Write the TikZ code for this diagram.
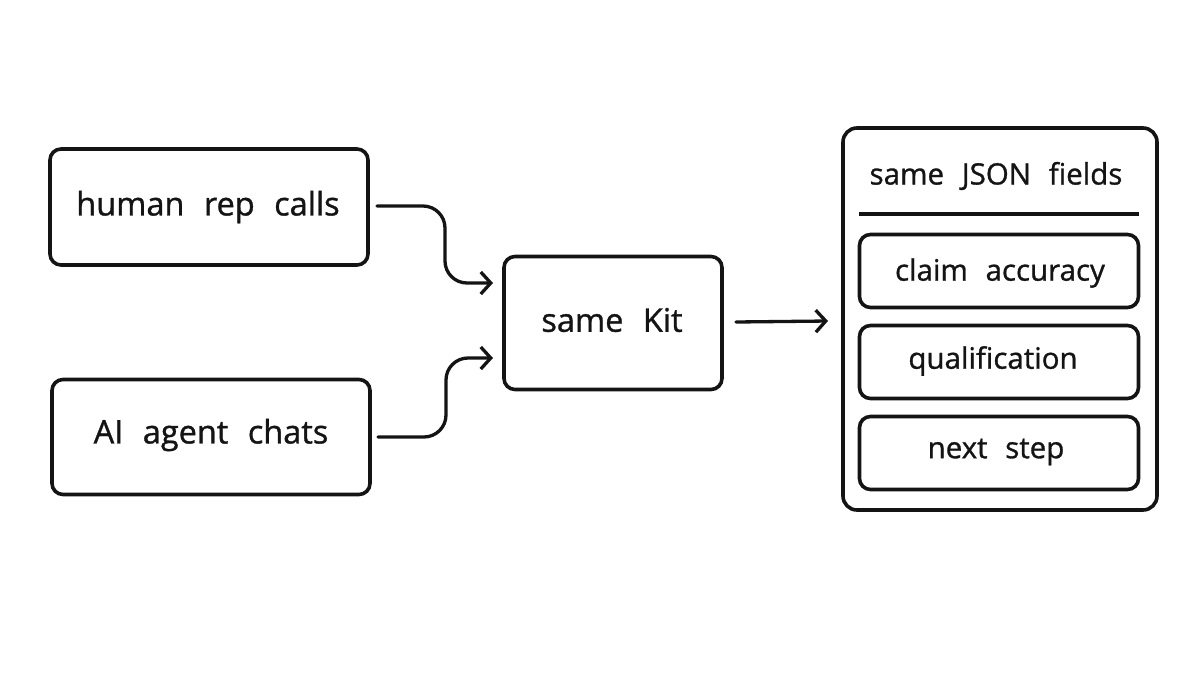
\documentclass[tikz,border=0pt]{standalone}
\usepackage{fontspec}
\setmainfont{Open Sans}[FakeBold=1.0]
\usetikzlibrary{arrows.meta,calc}
\definecolor{ink}{HTML}{141414}
\newcommand{\bigtxt}{\fontsize{32.5}{36}\selectfont\spaceskip=0.6em\relax}
\newcommand{\smalltxt}{\fontsize{29.5}{34}\selectfont\spaceskip=0.6em\relax}
\tikzset{
 box/.style={draw=ink,line width=3.6pt,rounded corners=11pt,inner sep=0pt},
 txtbig/.style={inner sep=0pt,text=ink,font=\bigtxt},
 txtsmall/.style={inner sep=0pt,text=ink,font=\smalltxt},
 conn/.style={draw=ink,line width=3.3pt,line cap=round,rounded corners=22pt,-{Straight Barb[length=10pt,width=22pt,line width=3.3pt]}},
}
\begin{document}
\begin{tikzpicture}[x=1pt,y=-1pt]
\useasboundingbox[fill=white] (0,0) rectangle (1200,675);
\node[box,minimum width=318pt,minimum height=116pt] (human) at (209,207) {};
\node[txtbig] (humant) at (208,207) {human rep calls};
\node[box,minimum width=318pt,minimum height=115pt] (agent) at (211,437) {};
\node[txtbig] (agentt) at (211,435) {AI agent chats};
\node[box,minimum width=218pt,minimum height=133pt] (kit) at (613,323) {};
\node[txtbig] (kitt) at (612,320) {same Kit};
\node[box,minimum width=314pt,minimum height=382pt,rounded corners=14pt] (panel) at (1000,319) {};
\node[txtsmall] (title) at (996,176) {same JSON fields};
\coordinate (ruleL) at (859,214);
\coordinate (ruleR) at (1139,214);
\draw[line width=3.3pt,draw=ink] (ruleL) -- (ruleR);
\node[box,minimum width=279pt,minimum height=73pt] (claim) at (999,271) {};
\node[txtsmall] (claimt) at (1000,273) {claim accuracy};
\node[box,minimum width=279pt,minimum height=73pt] (qual) at (999,362) {};
\node[txtsmall] (qualt) at (993,361) {qualification};
\node[box,minimum width=279pt,minimum height=73pt] (next) at (999,453) {};
\node[txtsmall] (nextt) at (996,452) {next step};
\coordinate (a) at (377,206);
\coordinate (b) at (493,283);
\coordinate (c) at (378,437);
\coordinate (d) at (493,358);
\draw[conn] (a) -- (445,206) -- (445,283) -- (b);
\draw[conn] (c) -- (446,437) -- (446,358) -- (d);
\coordinate (e) at (736,322);
\coordinate (f) at (828,321);
\draw[conn] (e) -- (f);
\end{tikzpicture}
\end{document}
